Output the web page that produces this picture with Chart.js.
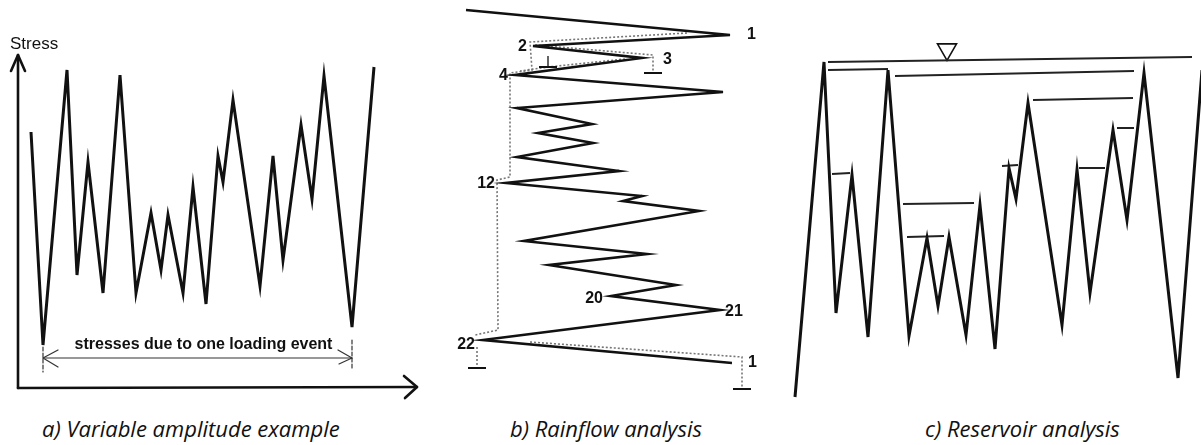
<!DOCTYPE html>
<html>
<head>
<meta charset="utf-8">
<script src="https://cdn.jsdelivr.net/npm/chart.js@4.4.0/dist/chart.umd.min.js"></script>
<style>
  body { margin: 0; background: #fff; width: 1201px; height: 445px; overflow: hidden; position: relative; }
  canvas { position: absolute; top: 0; }
  .caption { position: absolute; top: 414px; font: italic 22px "Open Sans", sans-serif; color: #111; white-space: nowrap; line-height: 28px; }
</style>
</head>
<body>
<canvas id="chartA" width="420" height="400" style="left:0"></canvas>
<canvas id="chartB" width="360" height="400" style="left:420px"></canvas>
<canvas id="chartC" width="431" height="400" style="left:770px"></canvas>
<div class="caption" style="left:42px">a) Variable amplitude example</div>
<div class="caption" style="left:510px">b) Rainflow analysis</div>
<div class="caption" style="left:925px">c) Reservoir analysis</div>
<script>
// a) stress history of one loading event (time -> stress)
const timeA = [31, 43, 67, 77, 88, 103, 120, 136, 151, 161, 168, 183, 193, 206, 218, 223, 233, 260, 273, 283, 301, 312, 324, 352, 374];
const stressA = [268, 55, 330, 125, 238, 107, 325, 107, 187, 130, 185, 107, 213, 96, 244, 218, 300, 114, 244, 140, 275, 201, 324, 73, 333];

// b) same history turned on its side, time running downwards
const stressB = [46, 310, 113, 222, 95, 303, 97, 172, 118, 173, 97, 199, 86, 222, 203, 279, 104, 227, 129, 256, 191, 300, 63, 312];
const timeB = [10, 35, 46, 58, 75, 92, 108, 124, 133, 143, 157, 171, 183, 196, 201, 211, 241, 254, 265, 285, 296, 310, 340, 363];
// reversal numbers written next to the turning points (index -> text)
const reversalIndexB = [1, 2, 3, 4, 12, 20, 21, 22, 23];
const reversalTextB = ['1', '2', '3', '4', '12', '20', '21', '22', '1'];

// rain flowing off the roofs
const rainStress = [
  [267, 110, 112, 90, 90, 77, 78, 55],
  [115, 233, 233],
  [205, 128, 100],
  [57, 57],
  [110, 322, 322]
];
const rainTime = [
  [33, 42, 70, 73, 177, 180, 330, 335],
  [45, 55, 72],
  [59, 67, 71],
  [347, 367],
  [342, 357, 388]
];
const dripStress = [233, 128, 57, 322];
const dripTime = [73, 67, 368, 389];

// c) reservoir drained from the lowest valleys
const timeC = [25, 54, 66, 82, 98, 118, 139, 157, 168, 179, 196, 210, 225, 239, 246, 258, 292, 307, 320, 343, 357, 374, 408, 432];
const stressC = [3, 338, 87, 225, 63, 330, 64, 162, 94, 163, 65, 195, 51, 232, 201, 297, 75, 230, 107, 270, 180, 327, 22, 330];
const levelFrom = [58, 58, 125, 263, 347, 62, 133, 137, 232, 309];
const levelTo = [422, 118, 364, 363, 364, 80, 204, 174, 248, 335];
const levelStressFrom = [338, 330, 324, 300, 272, 226, 196, 163, 234, 232];
const levelStressTo = [343, 331, 329, 302, 272, 227, 197, 164, 235, 232];
const waterMarkTime = 177;

const INK = '#111';
const toPoints = (xs, ys) => xs.map((x, i) => ({ x: x, y: ys[i] }));

function baseOptions(xMax, yMax, yReverse) {
    return {
        responsive: false,
        animation: false,
        events: [],
        layout: { padding: 0, autoPadding: false },
        plugins: { legend: { display: false }, tooltip: { enabled: false }, title: { display: false } },
        scales: {
            x: { type: 'linear', min: 0, max: xMax, display: false },
            y: { type: 'linear', min: 0, max: yMax, reverse: yReverse, display: false }
        }
    };
}

function historyLine(points, width) {
    return {
        data: points,
        borderColor: INK,
        borderWidth: width,
        borderJoinStyle: 'miter',
        pointRadius: 0,
        tension: 0,
        fill: false
    };
}

function line(ctx, pts) {
    ctx.beginPath();
    ctx.moveTo(pts[0][0], pts[0][1]);
    for (let i = 1; i < pts.length; i++) ctx.lineTo(pts[i][0], pts[i][1]);
    ctx.stroke();
}

// axes, arrows and text of panel a
const decorA = {
    id: 'decorA',
    afterDatasetsDraw(chart) {
        const { ctx, scales: { x, y } } = chart;
        const ox = x.getPixelForValue(18), oy = y.getPixelForValue(12);
        const topY = y.getPixelForValue(345), rightX = x.getPixelForValue(417);
        ctx.save();
        ctx.strokeStyle = INK;
        ctx.lineWidth = 2.6;
        ctx.lineCap = 'round';
        ctx.lineJoin = 'round';
        line(ctx, [[ox, oy], [ox, topY]]);
        line(ctx, [[ox - 7, topY + 16], [ox, topY], [ox + 7, topY + 16]]);
        line(ctx, [[ox, oy], [rightX, oy - 1]]);
        line(ctx, [[rightX - 13, oy - 12], [rightX, oy - 1], [rightX - 12, oy + 10]]);

        // span of the loading event: first to last deep valley
        const x1 = x.getPixelForValue(timeA[1]), x2 = x.getPixelForValue(timeA[23]);
        const ay = y.getPixelForValue(42);
        ctx.lineWidth = 1.2;
        ctx.strokeStyle = '#333';
        line(ctx, [[x1, ay], [x2, ay]]);
        line(ctx, [[x1 + 15, ay - 8], [x1, ay], [x1 + 15, ay + 9]]);
        line(ctx, [[x2 - 14, ay - 8], [x2, ay], [x2 - 13, ay + 6]]);
        ctx.setLineDash([4, 2]);
        line(ctx, [[x1, ay - 11], [x1, ay + 14]]);
        line(ctx, [[x2, ay - 18], [x2, ay + 12]]);
        ctx.setLineDash([]);

        ctx.fillStyle = INK;
        ctx.textBaseline = 'middle';
        ctx.font = '17px "Liberation Sans", Arial, sans-serif';
        ctx.textAlign = 'left';
        ctx.fillText('Stress', 10, 44);
        ctx.font = 'bold 16px "Liberation Sans", Arial, sans-serif';
        ctx.textAlign = 'center';
        ctx.fillText('stresses due to one loading event', (x1 + x2) / 2 + 6, y.getPixelForValue(55));
        ctx.restore();
    }
};

// drip marks and reversal numbers of panel b
const labelOffsetsB = [[17, 0], [-6, 1], [21, 2], [-7, 1], [-11, 1], [-8, 3], [5, 2], [-8, 5], [16, 0]];
const decorB = {
    id: 'decorB',
    afterDatasetsDraw(chart) {
        const { ctx, scales: { x, y } } = chart;
        ctx.save();
        ctx.strokeStyle = INK;
        ctx.lineWidth = 2;
        dripStress.forEach((s, i) => {
            const px = x.getPixelForValue(s), py = y.getPixelForValue(dripTime[i]);
            line(ctx, [[px - 9, py], [px + 9, py]]);
        });
        ctx.lineWidth = 1.3;
        line(ctx, [[x.getPixelForValue(128), y.getPixelForValue(56)], [x.getPixelForValue(128), y.getPixelForValue(66)]]);

        ctx.fillStyle = INK;
        ctx.font = 'bold 16px "Liberation Sans", Arial, sans-serif';
        ctx.textBaseline = 'middle';
        reversalIndexB.forEach((idx, i) => {
            const off = labelOffsetsB[i];
            ctx.textAlign = off[0] > 0 ? 'left' : 'right';
            ctx.fillText(reversalTextB[i], x.getPixelForValue(stressB[idx]) + off[0], y.getPixelForValue(timeB[idx]) + off[1]);
        });
        ctx.restore();
    }
};

new Chart(document.getElementById('chartA'), {
    type: 'line',
    data: { datasets: [historyLine(toPoints(timeA, stressA), 3)] },
    options: baseOptions(420, 400, false),
    plugins: [decorA]
});

const rainSets = rainStress.map((xs, i) => ({
    data: toPoints(xs, rainTime[i]),
    borderColor: '#777',
    borderWidth: 1.6,
    borderDash: [2, 2],
    pointRadius: 0,
    tension: 0,
    fill: false
}));

new Chart(document.getElementById('chartB'), {
    type: 'line',
    data: { datasets: [historyLine(toPoints(stressB, timeB), 2.6)].concat(rainSets) },
    options: baseOptions(360, 400, true),
    plugins: [decorB]
});

const levelSets = levelFrom.map((t, i) => ({
    data: [{ x: t, y: levelStressFrom[i] }, { x: levelTo[i], y: levelStressTo[i] }],
    borderColor: '#222',
    borderWidth: i === 0 ? 2.2 : 2,
    pointRadius: 0,
    tension: 0,
    fill: false
}));

// water level mark sitting on the top line
const markLevel = levelStressFrom[0] + (levelStressTo[0] - levelStressFrom[0]) * (waterMarkTime - levelFrom[0]) / (levelTo[0] - levelFrom[0]);
const waterMark = {
    data: [{ x: waterMarkTime, y: markLevel + 11 }],
    showLine: false,
    pointStyle: 'triangle',
    rotation: 180,
    pointRadius: 11,
    pointBackgroundColor: '#fff',
    pointBorderColor: INK,
    pointBorderWidth: 1.6
};

new Chart(document.getElementById('chartC'), {
    type: 'line',
    data: { datasets: [historyLine(toPoints(timeC, stressC), 3)].concat(levelSets, [waterMark]) },
    options: baseOptions(431, 400, false)
});
</script>
</body>
</html>
